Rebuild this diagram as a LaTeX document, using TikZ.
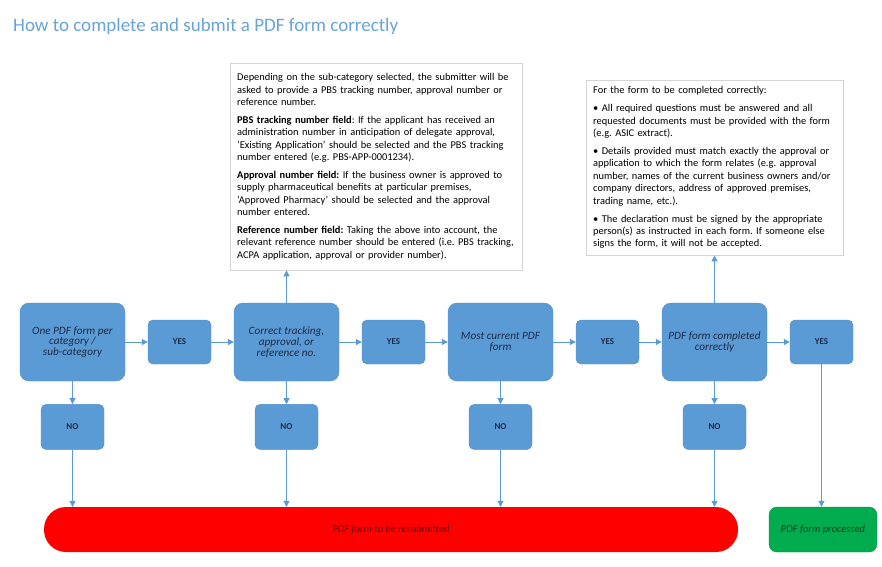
\documentclass[tikz,border=0pt]{standalone}
\usepackage{fontspec}
\setmainfont{Carlito}
\usetikzlibrary{arrows.meta,positioning}
\frenchspacing
\definecolor{boxblue}{RGB}{91,155,213}
\definecolor{boxedge}{RGB}{79,139,199}
\definecolor{inktext}{RGB}{30,42,70}
\definecolor{titleblue}{RGB}{104,163,218}
\definecolor{redbar}{RGB}{255,0,0}
\definecolor{redtext}{RGB}{80,10,10}
\definecolor{greenbar}{RGB}{0,172,78}
\definecolor{greentext}{RGB}{18,58,30}
\definecolor{framegray}{RGB}{212,212,212}
\tikzset{
  decision/.style = {draw = boxedge, fill = boxblue, rounded corners = 9pt,
    minimum width = 105pt, minimum height = 78pt, inner sep = 0pt,
    text = inktext, align = center,
    font = \fontsize{11.2}{10.8}\selectfont\itshape},
  answer/.style = {draw = boxedge, fill = boxblue, rounded corners = 5pt,
    minimum width = 63pt, minimum height = 44pt, inner sep = 0pt,
    text = inktext, font = \fontsize{9}{10}\selectfont\bfseries},
  infobox/.style = {draw = framegray, fill = white, align = left,
    inner xsep = 7pt, inner ysep = 0pt, anchor = north west,
    text = black, font = \fontsize{10.4}{12.4}\selectfont},
  flow/.style = {boxblue, line width = 1pt, -{Triangle[length = 6pt, width = 6pt]}},
}
\begin{document}
\begin{tikzpicture}[x = 1pt, y = -1pt]
  \useasboundingbox (0, 0) rectangle (882, 566);
  \node[anchor = base west, inner sep = 0pt, text = titleblue,
    font = \fontsize{19}{21}\selectfont] (title) at (13, 31)
    {How to complete and submit a PDF form correctly};
  % decisions and answers along the row
  \foreach \i/\x/\txt in {1/72.5/{One PDF form per\\category /\\sub-category},
                          2/286.5/{Correct tracking,\\approval, or\\reference no.},
                          3/500.5/{Most current PDF\\form},
                          4/714.5/{PDF form completed\\correctly}}
  {
    \node[decision] (box\i) at (\x, 342) {\txt};
    \node[answer] (yes\i) at ({\x + 107}, 342) {YES};
    \node[answer, minimum height = 45pt, below = 23pt of box\i] (no\i) {NO};
  }
  \node[fill = redbar, rounded corners = 22pt, minimum width = 694pt,
    minimum height = 45pt, text = redtext,
    font = \fontsize{10.5}{12}\selectfont\itshape] (resub) at (391, 529.5)
    {PDF form to be resubmitted};
  \node[fill = greenbar, draw = greenbar!85!black, rounded corners = 8pt,
    minimum width = 108pt, minimum height = 45pt, text = greentext,
    font = \fontsize{10.5}{12}\selectfont\itshape] (done) at (823, 529.5)
    {PDF form processed};
  % notes above the row
  \node[infobox, text width = 278pt, minimum height = 207pt] (info1) at (230, 63)
    {Depending on the sub-category selected, the submitter will be\\
     asked to provide a PBS tracking number, approval number or\\
     reference number.\\[5.5pt]
     \textbf{PBS tracking number field}: If the applicant has received an\\
     administration number in anticipation of delegate approval,\\
     `Existing Application' should be selected and the PBS tracking\\
     number entered (e.g. PBS-APP-0001234).\\[5.5pt]
     \textbf{Approval number field:} If the business owner is approved to\\
     supply pharmaceutical benefits at particular premises,\\
     `Approved Pharmacy' should be selected and the approval\\
     number entered.\\[5.5pt]
     \textbf{Reference number field:} Taking the above into account, the\\
     relevant reference number should be entered (i.e. PBS tracking,\\
     ACPA application, approval or provider number).};
  \node[infobox, text width = 243pt, minimum height = 175pt] (info2) at (586, 80)
    {For the form to be completed correctly:\\[5.5pt]
     \textbullet{} All required questions must be answered and all\\
     requested documents must be provided with the form\\
     (e.g. ASIC extract).\\[5.5pt]
     \textbullet{} Details provided must match exactly the approval or\\
     application to which the form relates (e.g. approval\\
     number, names of the current business owners and/or\\
     company directors, address of approved premises,\\
     trading name, etc.).\\[5.5pt]
     \textbullet{} The declaration must be signed by the appropriate\\
     person(s) as instructed in each form. If someone else\\
     signs the form, it will not be accepted.};
  % connectors
  \foreach \i/\j in {1/2, 2/3, 3/4}
    \draw[flow] (yes\i) -- (box\j);
  \foreach \i in {1, ..., 4}
  {
    \draw[flow] (box\i) -- (yes\i);
    \draw[flow] (box\i) -- (no\i);
    \draw[flow] (no\i) -- (no\i |- resub.north);
  }
  \draw[flow] (yes4) -- (yes4 |- done.north);
  \draw[flow] (box2.north) -- (box2.north |- info1.south);
  \draw[flow] (box4.north) -- (box4.north |- info2.south);
\end{tikzpicture}
\end{document}
